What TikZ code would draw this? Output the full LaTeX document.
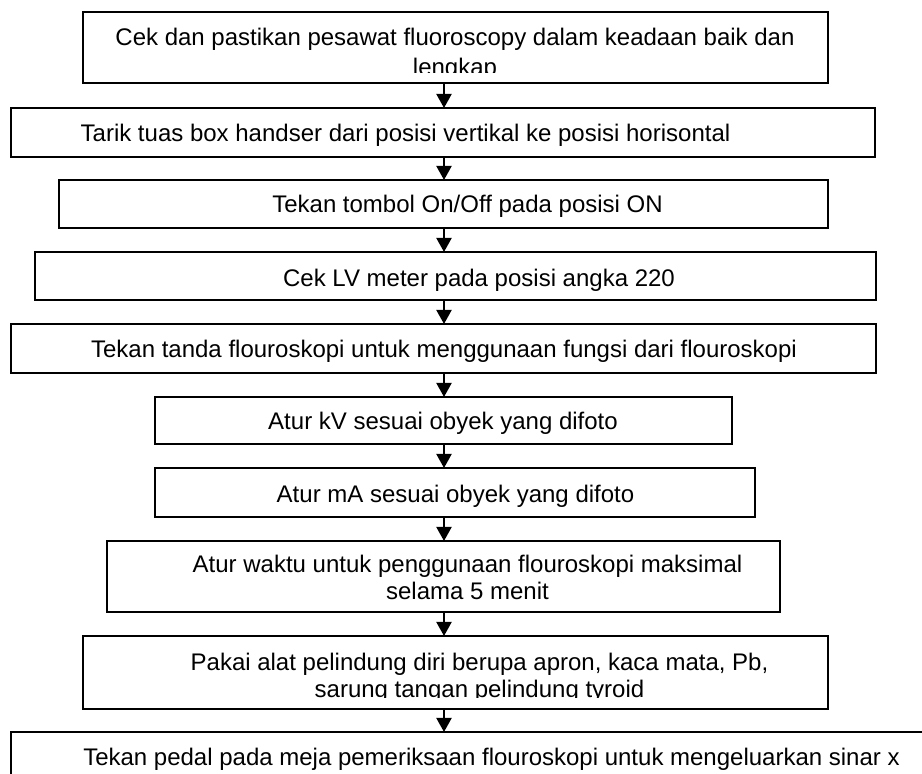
\documentclass[tikz,border=0pt]{standalone}
\usepackage{fontspec}
\setmainfont{Liberation Sans}
\usetikzlibrary{arrows.meta}
\begin{document}
\begin{tikzpicture}[x=0.5pt,y=-0.5pt,
  stepbox/.style={draw=black, line width=1pt, inner sep=0pt, outer sep=0pt, anchor=north west},
  steptext/.style={font=\fontsize{12}{13.5}\selectfont, inner sep=0pt, anchor=base},
  flow/.style={draw=black, line width=1pt, -{Triangle[width=7.5pt,length=7pt]}}]
\clip (0,0) rectangle (922,774);

% step frames
\node[stepbox, minimum width=372.5pt, minimum height=35.5pt] (b1) at (83,12) {};
\node[stepbox, minimum width=432pt,   minimum height=24.5pt] (b2) at (11,108) {};
\node[stepbox, minimum width=384.5pt, minimum height=24pt]   (b3) at (59,180) {};
\node[stepbox, minimum width=420.5pt, minimum height=24pt]   (b4) at (35,252) {};
\node[stepbox, minimum width=432.5pt, minimum height=24.5pt] (b5) at (11,324) {};
\node[stepbox, minimum width=288.5pt, minimum height=23.5pt] (b6) at (155,397) {};
\node[stepbox, minimum width=300pt,   minimum height=24.5pt] (b7) at (155,468) {};
\node[stepbox, minimum width=336.5pt, minimum height=35.5pt] (b8) at (107,541) {};
\node[stepbox, minimum width=372.5pt, minimum height=36.5pt] (b9) at (83,636) {};
\node[stepbox, minimum width=464.5pt, minimum height=40pt]   (b10) at (11,732) {};

% step texts
\begin{scope}
  \clip (83,12) rectangle (828,73);
  \node[steptext, font=\fontsize{12}{14.75}\selectfont] (t1) at (455,46)
    {\begin{tabular}[t]{@{}c@{}}Cek dan pastikan pesawat fluoroscopy dalam keadaan baik dan\\ lengkap\end{tabular}};
\end{scope}
\node[steptext] (t2) at (405.5,142) {Tarik tuas box handser dari posisi vertikal ke posisi horisontal};
\node[steptext] (t3) at (467.5,213) {Tekan tombol On/Off pada posisi ON};
\node[steptext] (t4) at (479,287) {Cek LV meter pada posisi angka 220};
\node[steptext] (t5) at (444,358) {Tekan tanda flouroskopi untuk menggunaan fungsi dari flouroskopi};
\node[steptext] (t6) at (443,430) {Atur kV sesuai obyek yang difoto};
\node[steptext] (t7) at (455.5,503) {Atur mA sesuai obyek yang difoto};
\node[steptext] (t8) at (467.5,573)
  {\begin{tabular}[t]{@{}c@{}}Atur waktu untuk penggunaan flouroskopi maksimal\\ selama 5 menit\end{tabular}};
\begin{scope}
  \clip (83,636) rectangle (828,698);
  \node[steptext] (t9) at (479.5,671)
    {\begin{tabular}[t]{@{}c@{}}Pakai alat pelindung diri berupa apron, kaca mata, Pb,\\ sarung tangan pelindung tyroid\end{tabular}};
\end{scope}
\node[steptext] (t10) at (491.5,766) {Tekan pedal pada meja pemeriksaan flouroskopi untuk mengeluarkan sinar x};

% connectors down the common axis
\coordinate (ax) at (444,0);
\draw[flow] (b1.south -| ax) -- (b2.north -| ax);
\draw[flow] (b2.south -| ax) -- (b3.north -| ax);
\draw[flow] (b3.south -| ax) -- (b4.north -| ax);
\draw[flow] (b4.south -| ax) -- (b5.north -| ax);
\draw[flow] (b5.south -| ax) -- (b6.north -| ax);
\draw[flow] (b6.south -| ax) -- (b7.north -| ax);
\draw[flow] (b7.south -| ax) -- (b8.north -| ax);
\draw[flow] (b8.south -| ax) -- (b9.north -| ax);
\draw[flow] (b9.south -| ax) -- (b10.north -| ax);
\end{tikzpicture}
\end{document}
